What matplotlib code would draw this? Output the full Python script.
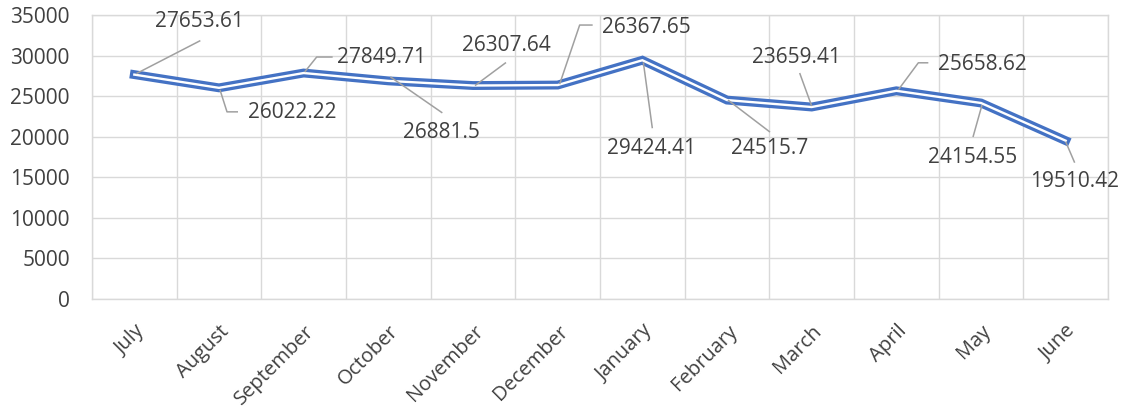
"""Monthly values as an Excel-style double line with leader-lined data labels."""

from __future__ import annotations

import matplotlib

matplotlib.use("Agg")
import matplotlib.pyplot as plt
from matplotlib.transforms import Affine2D, ScaledTranslation

MONTHS = [
    "July", "August", "September", "October", "November", "December",
    "January", "February", "March", "April", "May", "June",
]
VALUES = [
    27653.61, 26022.22, 27849.71, 26881.5, 26307.64, 26367.65,
    29424.41, 24515.7, 23659.41, 25658.62, 24154.55, 19510.42,
]
Y_TICKS = [0, 5000, 10000, 15000, 20000, 25000, 30000, 35000]

# label placement, pixel offsets from each point (y up)
LABEL_OFFSETS = [
    (65, 53), (73, -25), (78, 16), (53, -52), (33, 40), (89, 58),
    (9, -88), (43, -48), (-15, 50), (86, 26), (-8, -54), (9, -41),
]
LEADER_PATHS = [
    [(66, 34), (2, 1)],
    [(19, -24), (8, -24), (1, -2)],
    [(29, 16), (13, 16), (1, 1)],
    [(54, -32), (2, 4)],
    [(33, 23), (2, 0)],
    [(35, 60), (22, 60), (2, 1)],
    [(10, -68), (1, -2)],
    [(43, -32), (1, 0)],
    [(-12, 34), (0, 1)],
    [(32, 28), (22, 28), (2, 1)],
    [(-8, -34), (1, -2)],
    [(9, -22), (0, -1)],
]

TEXT = "#404040"
GRID = "#D9D9D9"
BLUE = "#4472C4"
LEADER = "#A0A0A0"


def main() -> int:
    plt.rcParams["font.family"] = ["Open Sans", "DejaVu Sans"]
    fig = plt.figure(figsize=(11.27, 4.13), dpi=100)
    ax = fig.add_axes([92 / 1127, 1 - 299 / 413, 1016 / 1127, 284 / 413])
    ax.set_xlim(-0.5, len(MONTHS) - 0.5)
    ax.set_ylim(0, 35000)

    xs = list(range(len(MONTHS)))
    ax.plot(xs, VALUES, color=BLUE, linewidth=6.4, solid_joinstyle="miter", zorder=3)
    ax.plot(xs, VALUES, color="white", linewidth=1.7, solid_joinstyle="miter", zorder=4)

    for x, v, (dx, dy), path in zip(xs, VALUES, LABEL_OFFSETS, LEADER_PATHS):
        ax.annotate(
            str(v),
            xy=(x, v), xytext=(dx, dy), textcoords="offset pixels",
            ha="center", va="center", fontsize=15, color=TEXT, zorder=6,
        )
        # leader in pixel offsets around the data point
        leader_tr = Affine2D() + ScaledTranslation(x, v, ax.transData)
        ax.plot([p[0] for p in path], [p[1] for p in path], transform=leader_tr,
                color=LEADER, linewidth=1.1, zorder=5, solid_capstyle="butt")

    ax.set_yticks(Y_TICKS)
    ax.set_yticklabels([str(t) for t in Y_TICKS], fontsize=15, color=TEXT)
    ax.set_xticks(xs)
    ax.set_xticklabels(MONTHS, rotation=45, ha="right", va="top", rotation_mode="anchor",
                       fontsize=14.5, color=TEXT)
    ax.set_xticks([i + 0.5 for i in range(-1, len(MONTHS))], minor=True)
    ax.tick_params(axis="y", length=0, pad=16)
    ax.tick_params(axis="x", which="major", length=0, pad=16)
    ax.tick_params(axis="x", which="minor", length=0)
    ax.grid(True, axis="y", color=GRID, linewidth=1.0, zorder=0)
    ax.grid(True, axis="x", which="minor", color=GRID, linewidth=1.0, zorder=0)
    for side in ("left", "right", "top", "bottom"):
        ax.spines[side].set_color(GRID)
        ax.spines[side].set_linewidth(1.0)
    ax.set_axisbelow(True)

    fig.savefig("out.png", dpi=100, facecolor="white")
    plt.close(fig)
    return 0


if __name__ == "__main__":
    raise SystemExit(main())
